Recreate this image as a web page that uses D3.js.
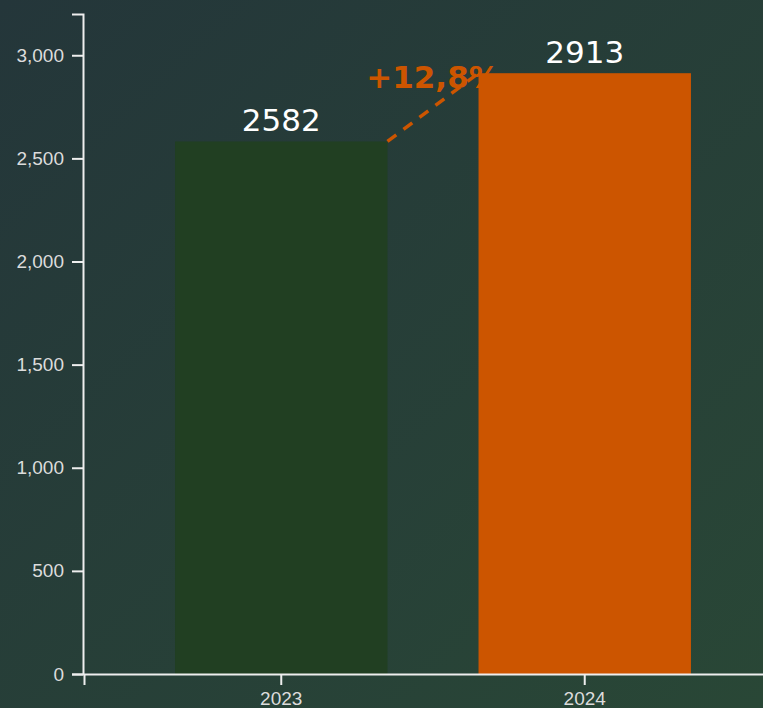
<html>
<script src='https://d3js.org/d3.v7.min.js'></script>
<style>
body {margin: 0; background: #253a38;}
.axis text {font: 19px 'Liberation Sans', Arial, sans-serif; fill: #dcdcdc;}
.axis path, .axis line {stroke: #eeeeee; stroke-width: 2;}
.value {font: 31px 'DejaVu Sans', sans-serif; fill: white; text-anchor: middle;}
.change {font: bold 31px 'DejaVu Sans', sans-serif; fill: #cc5500; text-anchor: middle;}
</style>
<body>
<svg width=763 height=708></svg>
<script>

var years = ['2023', '2024'];
var values = [2582, 2913];
var barColors = ['#213f22', '#cc5500'];
var yTicks = [0, 500, 1000, 1500, 2000, 2500, 3000];
var changeLabel = '+12,8%';

var svg = d3.select('svg');

// background gradient
var grad = svg.append('defs').append('linearGradient')
  .attr('id', 'bg')
  .attr('x1', '0%').attr('y1', '0%')
  .attr('x2', '100%').attr('y2', '100%');
grad.append('stop').attr('offset', '0%').attr('stop-color', '#24363a');
grad.append('stop').attr('offset', '100%').attr('stop-color', '#294736');

svg.append('rect')
  .attr('width', 763).attr('height', 708)
  .attr('fill', 'url(#bg)');

var x = d3.scaleBand().domain(years).range([84, 782]).paddingInner(0.3).paddingOuter(0.3);
var y = d3.scaleLinear().domain([0, 3200]).range([674, 14]);

svg.selectAll('.bar')
  .data(values)
  .enter()
  .append('rect')
    .attr('class', 'bar')
    .attr('x', function(d, i) { return x(years[i]); })
    .attr('y', function(d) { return y(d); })
    .attr('width', x.bandwidth())
    .attr('height', function(d) { return y(0) - y(d); })
    .attr('fill', function(d, i) { return barColors[i]; });

svg.selectAll('.value')
  .data(values)
  .enter()
  .append('text')
    .attr('class', 'value')
    .attr('x', function(d, i) { return x(years[i]) + x.bandwidth() / 2; })
    .attr('y', function(d) { return y(d) - 10; })
    .text(function(d) { return d; });

// dashed line between bar tops
var x1 = x(years[0]) + x.bandwidth(), y1 = y(values[0]);
var x2 = x(years[1]), y2 = y(values[1]);

svg.append('line')
  .attr('x1', x1).attr('y1', y1)
  .attr('x2', x2).attr('y2', y2)
  .attr('stroke', '#cc5500')
  .attr('stroke-width', 3.5)
  .attr('stroke-dasharray', '11,9');

svg.append('text')
  .attr('class', 'change')
  .attr('x', (x1 + x2) / 2)
  .attr('y', (y1 + y2) / 2 - 19)
  .text(changeLabel);

svg.append('g')
  .attr('class', 'axis')
  .attr('transform', 'translate(83,0)')
  .call(d3.axisLeft(y).tickValues(yTicks).tickSize(11).tickPadding(8));

svg.append('g')
  .attr('class', 'axis')
  .attr('transform', 'translate(0,674)')
  .call(d3.axisBottom(x).tickSize(11).tickPadding(7));

</script>
</body>
</html>
